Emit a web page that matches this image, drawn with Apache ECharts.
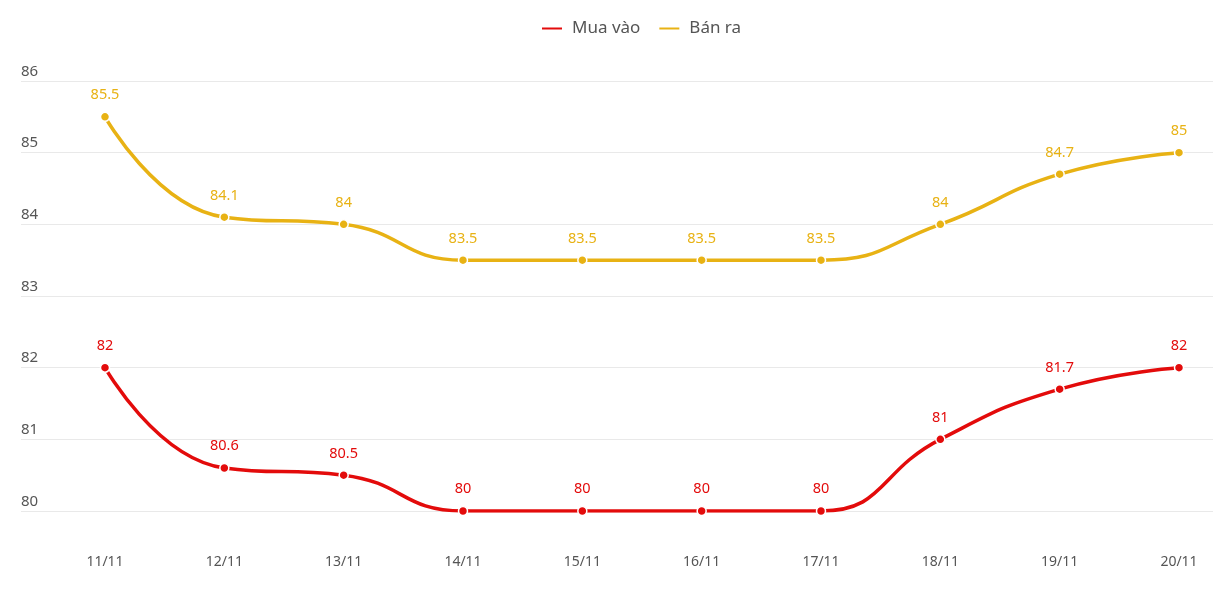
<!DOCTYPE html>
<html>
<head>
<meta charset="utf-8">
<style>
  html, body { margin: 0; padding: 0; background: #fff; }
  #main { width: 1215px; height: 608px; }
</style>
<script src="https://cdn.jsdelivr.net/npm/echarts@6/dist/echarts.min.js"></script>
</head>
<body>
<div id="main"></div>
<script>
  // ngày
  var days = ['11/11', '12/11', '13/11', '14/11', '15/11', '16/11', '17/11', '18/11', '19/11', '20/11'];
  // giá mua vào / bán ra
  var muaVao = [82, 80.6, 80.5, 80, 80, 80, 80, 81, 81.7, 82];
  var banRa = [85.5, 84.1, 84, 83.5, 83.5, 83.5, 83.5, 84, 84.7, 85];
  var yMin = 80, yMax = 86, yStep = 1;

  var RED = '#e30b0b';
  var YELLOW = '#e8b214';
  var FONT = 'Noto Sans';

  var dom = document.getElementById('main');
  var myChart = echarts.init(dom);

  function lineSeries(name, data, color) {
    return {
      name: name,
      type: 'line',
      xAxisIndex: 1,
      yAxisIndex: 1,
      data: data,
      smooth: 0.5,
      symbol: 'circle',
      symbolSize: 9,
      lineStyle: { color: color, width: 3.5 },
      itemStyle: { color: color, borderColor: '#fff', borderWidth: 1.5 },
      label: {
        show: true,
        position: 'top',
        distance: 9,
        color: color,
        fontSize: 14.5,
        fontFamily: FONT
      }
    };
  }

  var option = {
    animation: false,
    legend: {
      top: 15,
      left: 535,
      itemWidth: 22,
      itemHeight: 4,
      itemGap: 17,
      icon: 'rect',
      textStyle: { color: '#555', fontSize: 17, fontFamily: FONT, padding: [0, 0, 0, 4] },
      data: ['Mua vào', 'Bán ra']
    },
    grid: [
      // khung cho đường lưới + nhãn trục y
      { left: 21, right: 2, top: 81, bottom: 97 },
      // khung cho đường dữ liệu
      { left: 105, right: 36, top: 81, bottom: 97 }
    ],
    xAxis: [
      { type: 'category', gridIndex: 0, data: days, show: false },
      {
        type: 'category',
        gridIndex: 1,
        data: days,
        boundaryGap: false,
        axisLine: { show: false },
        axisTick: { show: false },
        axisLabel: { margin: 44, color: '#555', fontSize: 14, fontFamily: FONT }
      }
    ],
    yAxis: [
      {
        type: 'value',
        gridIndex: 0,
        min: yMin,
        max: yMax,
        interval: yStep,
        axisLine: { show: false },
        axisTick: { show: false },
        splitLine: { lineStyle: { color: '#e9e9e9', width: 1 } },
        axisLabel: {
          inside: true,
          margin: 0,
          align: 'left',
          verticalAlign: 'bottom',
          padding: [0, 0, 2, 0],
          color: '#555',
          fontSize: 15,
          fontFamily: FONT
        }
      },
      {
        type: 'value',
        gridIndex: 1,
        min: yMin,
        max: yMax,
        interval: yStep,
        show: false
      }
    ],
    series: [
      lineSeries('Mua vào', muaVao, RED),
      lineSeries('Bán ra', banRa, YELLOW)
    ]
  };

  if (option && typeof option === 'object') {
    myChart.setOption(option, true);
  }
</script>
</body>
</html>
